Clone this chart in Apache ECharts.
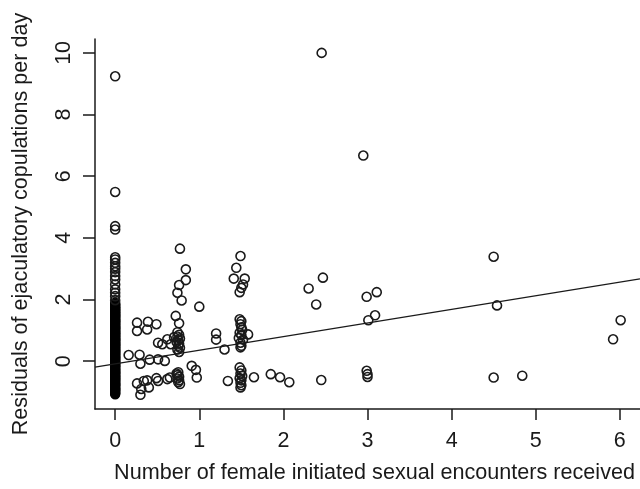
<!DOCTYPE html>
<html><head><meta charset="utf-8">
<script src="https://cdn.jsdelivr.net/npm/echarts@6/dist/echarts.min.js"></script>
<style>html,body{margin:0;padding:0;background:#fff}#c{width:640px;height:489px}</style>
</head><body><div id="c"></div>
<script>
const xTicks = [0, 1, 2, 3, 4, 5, 6];
const yTicks = [0, 2, 4, 6, 8, 10];
const xTitle = 'Number of female initiated sexual encounters received';
const yTitle = 'Residuals of ejaculatory copulations per day';

// males with zero female-initiated encounters (x = 0): densely packed part
const zeroDenseY = [
  -1.07, -1.04, -1.02, -0.98, -0.95, -0.93, -0.9, -0.88, -0.86, -0.81, -0.79, -0.77, -0.74, -0.72,
  -0.7, -0.66, -0.63, -0.61, -0.58, -0.56, -0.54, -0.5, -0.48, -0.47, -0.42, -0.4, -0.38, -0.35,
  -0.33, -0.3, -0.27, -0.25, -0.22, -0.18, -0.16, -0.15, -0.11, -0.09, -0.07, -0.03, -0.01, 0.0,
  0.04, 0.06, 0.08, 0.12, 0.13, 0.15, 0.19, 0.21, 0.23, 0.27, 0.29, 0.31, 0.34, 0.36, 0.38, 0.42,
  0.44, 0.46, 0.5, 0.52, 0.53, 0.57, 0.59, 0.61, 0.65, 0.67, 0.69, 0.72, 0.74, 0.76, 0.8, 0.82,
  0.84, 0.88, 0.9, 0.91, 0.95, 0.97, 0.99, 1.03, 1.05, 1.07, 1.1, 1.12, 1.14, 1.18, 1.2, 1.22,
  1.26, 1.28, 1.3, 1.33, 1.35, 1.37, 1.41, 1.43, 1.45, 1.49, 1.5, 1.52, 1.56, 1.58, 1.6, 1.64,
  1.66, 1.68, 1.72, 1.74, 1.76, 1.8, 1.83, 1.85, 1.9
];
// x = 0, upper separated values
const zeroUpperY = [1.98, 2.11, 2.22, 2.33, 2.49, 2.65, 2.76, 2.89, 3.0, 3.08, 3.19, 3.3, 3.37, 4.27, 4.38, 5.49, 9.24];

// males with one or more female-initiated encounters: [x, residual]
const otherPoints = [
  [0.16, 0.2], [0.26, 1.25], [0.39, 1.28], [0.49, 1.2], [0.26, 0.98], [0.38, 1.03],
  [0.29, 0.21], [0.3, -0.08], [0.41, 0.05], [0.51, 0.06], [0.59, 0.01],
  [0.51, 0.6], [0.56, 0.55], [0.62, 0.71], [0.66, 0.55], [0.7, 0.78],
  [0.72, 1.47], [0.76, 1.23], [0.74, 0.94], [0.76, 0.86], [0.74, 0.8], [0.77, 0.74], [0.75, 0.68],
  [0.73, 0.62], [0.76, 0.57], [0.75, 0.5], [0.77, 0.44], [0.74, 0.38], [0.76, 0.3],
  [0.77, 3.65], [0.84, 2.98], [0.84, 2.63], [0.76, 2.47], [0.74, 2.22], [0.79, 1.97], [1.0, 1.77],
  [0.26, -0.72], [0.3, -1.09], [0.34, -0.64], [0.31, -0.9], [0.4, -0.85], [0.38, -0.62],
  [0.49, -0.55], [0.51, -0.64], [0.65, -0.53], [0.62, -0.58],
  [0.73, -0.4], [0.75, -0.36], [0.76, -0.5], [0.74, -0.56], [0.76, -0.62], [0.75, -0.68],
  [0.77, -0.74], [0.74, -0.45],
  [0.91, -0.15], [0.96, -0.28], [0.97, -0.53],
  [1.2, 0.9], [1.2, 0.7], [1.3, 0.38], [1.34, -0.64],
  [1.49, 3.41], [1.44, 3.03], [1.41, 2.68], [1.54, 2.68], [1.52, 2.49], [1.5, 2.38], [1.48, 2.24],
  [1.48, 1.36], [1.5, 1.3], [1.49, 1.2], [1.5, 1.1], [1.51, 1.02], [1.48, 0.92], [1.5, 0.85],
  [1.47, 0.75], [1.52, 0.7], [1.49, 0.6], [1.5, 0.5], [1.49, 0.45], [1.58, 0.87],
  [1.48, -0.2], [1.5, -0.3], [1.49, -0.4], [1.51, -0.48], [1.48, -0.55], [1.5, -0.62],
  [1.49, -0.7], [1.5, -0.78], [1.49, -0.85], [1.65, -0.52],
  [1.85, -0.42], [1.96, -0.52], [2.07, -0.68],
  [2.3, 2.36], [2.39, 1.84], [2.47, 2.71], [2.45, -0.61], [2.455, 10.0],
  [2.95, 6.67], [2.99, 2.09], [3.11, 2.24], [3.09, 1.49], [3.01, 1.33],
  [2.99, -0.31], [3.0, -0.42], [3.0, -0.51],
  [4.5, 3.39], [4.54, 1.81], [4.5, -0.53], [4.84, -0.47],
  [6.01, 1.33], [5.92, 0.71]
];

// fitted regression line, read at the two edges of the plot region
const fitLine = [[-0.24, -0.19], [6.24, 2.67]];

const toZero = function (y) { return [0, y]; };
const font = 'Liberation Sans, Arial, Helvetica, sans-serif';
const ink = '#1a1a1a';
const openCircle = { color: 'rgba(0,0,0,0)', borderColor: ink, borderWidth: 1.6, opacity: 1 };

const chart = echarts.init(document.getElementById('c'), null, { renderer: 'canvas' });
chart.setOption({
  animation: false,
  backgroundColor: '#fff',
  grid: { left: 95, width: 548, top: 39, bottom: 79, containLabel: false },
  xAxis: {
    type: 'value', min: -0.24, max: 6.24,
    axisLine: { show: true, onZero: false, lineStyle: { color: ink, width: 1.5 } },
    axisTick: { show: true, length: 11, customValues: xTicks, lineStyle: { color: ink, width: 1.5 } },
    axisLabel: { customValues: xTicks, margin: 21, fontSize: 21.5, color: ink, fontFamily: font },
    splitLine: { show: false },
    name: xTitle, nameLocation: 'middle', nameGap: 53,
    nameTextStyle: { fontSize: 21.6, color: ink, fontFamily: font, padding: [0, 0, 0, 14] }
  },
  yAxis: {
    type: 'value', min: -1.55, max: 10.45,
    axisLine: { show: true, onZero: false, lineStyle: { color: ink, width: 1.5 } },
    axisTick: { show: true, length: 12, customValues: yTicks, lineStyle: { color: ink, width: 1.5 } },
    axisLabel: { customValues: yTicks, rotate: 90, margin: 20, fontSize: 21.5, color: ink, fontFamily: font },
    splitLine: { show: false },
    name: yTitle, nameLocation: 'middle', nameGap: 63,
    nameTextStyle: { fontSize: 21.6, color: ink, fontFamily: font }
  },
  series: [
    {
      type: 'scatter', data: zeroDenseY.map(toZero), symbol: 'circle', symbolSize: 9,
      itemStyle: { color: '#000', borderColor: '#000', borderWidth: 1.4, opacity: 1 },
      z: 2
    },
    {
      type: 'scatter', data: zeroUpperY.map(toZero), symbol: 'circle', symbolSize: 9,
      itemStyle: openCircle, z: 2
    },
    {
      type: 'scatter', data: otherPoints, symbol: 'circle', symbolSize: 9,
      itemStyle: openCircle, z: 2
    },
    {
      type: 'line', data: fitLine, symbol: 'none',
      lineStyle: { color: ink, width: 1.4 }, z: 3
    }
  ]
});
</script></body></html>
